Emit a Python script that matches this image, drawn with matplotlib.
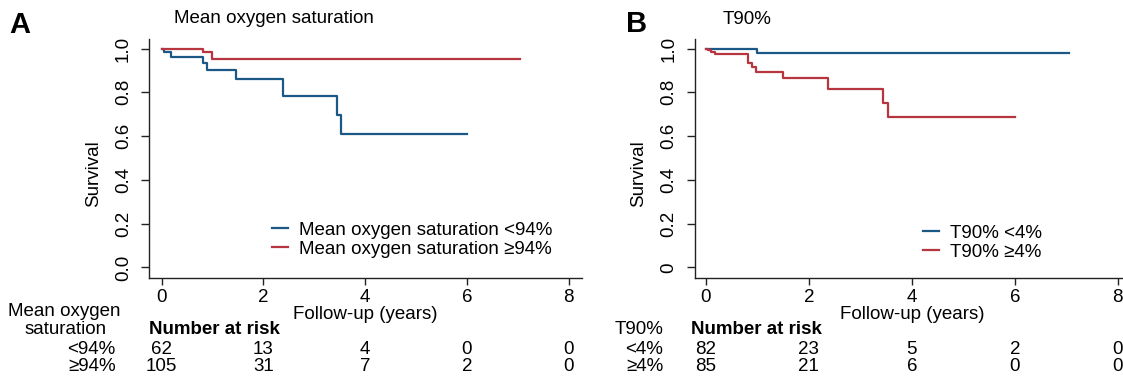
import matplotlib
matplotlib.use("Agg")
import matplotlib.pyplot as plt
from matplotlib.transforms import blended_transform_factory
import numpy as np

plt.rcParams['font.family'] = ['Liberation Sans', 'DejaVu Sans']

BLUE = "#1b5886"
RED = "#b6353e"

# Panel A - mean oxygen saturation
a_low_t = [0, 0.05, 0.18, 0.82, 0.90, 1.47, 2.38, 3.45, 3.53, 6.0]
a_low_s = [1.0, 0.986, 0.960, 0.933, 0.900, 0.861, 0.782, 0.695, 0.608, 0.608]
a_high_t = [0, 0.82, 0.99, 7.05]
a_high_s = [1.0, 0.986, 0.953, 0.953]

# Panel B - T90%
b_low_t = [0, 0.99, 7.05]
b_low_s = [1.0, 0.980, 0.980]
b_high_t = [0, 0.05, 0.10, 0.18, 0.815, 0.89, 0.97, 1.49, 2.38, 3.45, 3.53, 6.0]
b_high_s = [1.0, 0.992, 0.986, 0.974, 0.935, 0.914, 0.892, 0.864, 0.814, 0.750, 0.689, 0.689]

risk_times = [0, 2, 4, 6, 8]
a_risk_low = [62, 13, 4, 0, 0]
a_risk_high = [105, 31, 7, 2, 0]
b_risk_low = [82, 23, 5, 2, 0]
b_risk_high = [85, 21, 6, 0, 0]

a_labels = ["Mean oxygen saturation <94%", "Mean oxygen saturation \u226594%"]
b_labels = ["T90% <4%", "T90% \u22654%"]
a_rows = ["<94%", "\u226594%"]
b_rows = ["<4%", "\u22654%"]

W, H = 1123, 382
fig = plt.figure(figsize=(W / 100, H / 100), dpi=100)

FS = 13.5


def fx(px):
    return px / W


def fy(px):
    return 1 - px / H


def panel(left, right, xmin, xmax, curves, labels, yticklabels, leg_x, leg_y):
    ax = fig.add_axes([fx(left), fy(277.5), fx(right - left), (277.5 - 38.7) / H])
    for (t, s), lab, c in zip(curves, labels, [BLUE, RED]):
        ax.step(t, s, where="post", color=c, lw=1.6, label=lab)
    ax.set_xlim(xmin, xmax)
    ax.set_ylim(-0.046, 1.045)
    ax.spines['top'].set_visible(False)
    ax.spines['right'].set_visible(False)
    for sp in ['left', 'bottom']:
        ax.spines[sp].set_linewidth(1.0)
        ax.spines[sp].set_color("#222222")
    ax.set_xticks(risk_times)
    ax.set_xticklabels([str(v) for v in risk_times], fontsize=FS)
    ax.set_yticks([0, 0.2, 0.4, 0.6, 0.8, 1.0])
    ax.set_yticklabels(yticklabels, fontsize=FS, rotation=90, va='center')
    ax.tick_params(axis='y', length=5.5, width=1, pad=7, color="#222222")
    ax.tick_params(axis='x', length=5, width=1, pad=3, color="#222222")
    ax.set_ylabel("Survival", fontsize=FS)
    ax.yaxis.set_label_coords(-0.11, 0.437)
    ax.set_xlabel("Follow-up (years)", fontsize=FS, labelpad=0)
    ax.legend(loc='center left', bbox_to_anchor=(fx(leg_x), fy(leg_y)),
              bbox_transform=fig.transFigure, frameon=False, fontsize=FS,
              handlelength=0.85, handletextpad=0.6, labelspacing=0.08,
              borderpad=0, borderaxespad=0)
    return ax


ax_a = panel(149.3, 581.5, -0.244, 8.254,
             [(a_low_t, a_low_s), (a_high_t, a_high_s)], a_labels,
             ["0.0", "0.2", "0.4", "0.6", "0.8", "1.0"], 272, 239.7)
ax_b = panel(694.7, 1130.7, -0.2155, 8.25,
             [(b_low_t, b_low_s), (b_high_t, b_high_s)], b_labels,
             ["0", "0.2", "0.4", "0.6", "0.8", "1.0"], 922.7, 242.8)

# panel letters and titles
fig.text(fx(20), fy(25), "A", fontsize=21, fontweight='bold', ha='center', va='center')
fig.text(fx(636.4), fy(24.4), "B", fontsize=21, fontweight='bold', ha='center', va='center')
fig.text(fx(174), fy(18.3), "Mean oxygen saturation", fontsize=FS, ha='left', va='center')
fig.text(fx(722.7), fy(19), "T90%", fontsize=FS, ha='left', va='center')

# number at risk tables
fig.text(fx(64), fy(311), "Mean oxygen", fontsize=FS, ha='center', va='center')
fig.text(fx(65.3), fy(329.3), "saturation", fontsize=FS, ha='center', va='center')
fig.text(fx(663.3), fy(330), "T90%", fontsize=FS, ha='right', va='center')


def risk_table(ax, nar_left, row_right, rows, low, high):
    fig.text(fx(nar_left), fy(329.5), "Number at risk", fontsize=FS,
             fontweight='bold', ha='left', va='center')
    tr = blended_transform_factory(ax.transData, fig.transFigure)
    for ypx, lab, vals in [(349.3, rows[0], low), (366.7, rows[1], high)]:
        fig.text(fx(row_right), fy(ypx), lab, fontsize=FS, ha='right', va='center')
        for t, v in zip(risk_times, vals):
            ax.text(t, fy(ypx), str(v), transform=tr, fontsize=FS,
                    ha='center', va='center', clip_on=False)


risk_table(ax_a, 149, 115.7, a_rows, a_risk_low, a_risk_high)
risk_table(ax_b, 690.7, 663.3, b_rows, b_risk_low, b_risk_high)

fig.savefig("out.png", dpi=100)
